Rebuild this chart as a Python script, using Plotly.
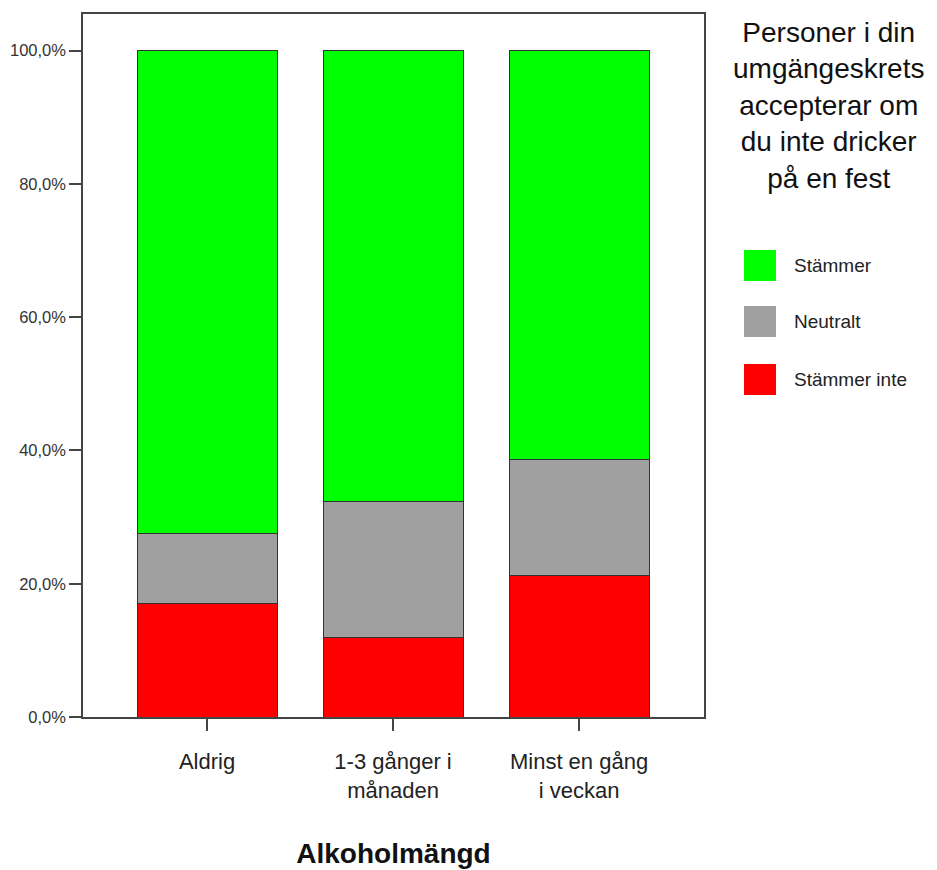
import plotly.graph_objects as go

categories = ["Aldrig", "1-3 gånger i<br>månaden", "Minst en gång<br>i veckan"]
series_names = ["Stämmer inte", "Neutralt", "Stämmer"]
stammer_inte = [17.0, 12.0, 21.3]
neutralt = [10.6, 20.4, 17.3]
stammer = [72.4, 67.6, 61.4]
series_values = [stammer_inte, neutralt, stammer]
series_colors = ["#ff0000", "#a0a0a0", "#00ff00"]
y_tickvals = [0, 20, 40, 60, 80, 100]
y_ticktext = ["0,0%", "20,0%", "40,0%", "60,0%", "80,0%", "100,0%"]
legend_title = "Personer i din<br>umgängeskrets<br>accepterar om<br>du inte dricker<br>på en fest"
x_title = "Alkoholmängd"

FONT = "Liberation Sans, Arial, Helvetica, sans-serif"

fig = go.Figure()
for name, vals, col in zip(series_names, series_values, series_colors):
    fig.add_trace(go.Bar(
        x=categories, y=vals, name=name,
        marker=dict(color=col, line=dict(color="#333333", width=1)),
        width=0.753, showlegend=False,
    ))

# page body has an 8px margin -> figure drawn offset by 8px
OFF = 8
W, H = 937 - OFF, 870 - OFF
L, T = 83 - OFF, 14 - OFF
R = W - (704 - OFF)
B = H - (717 - OFF)
pw, ph = W - L - R, H - T - B

def px_x(px):
    return (px - OFF - L) / pw

def px_y(py):
    return (H - B - (py - OFF)) / ph

annotations = [dict(
    text=legend_title, xref="paper", yref="paper",
    x=px_x(828), y=px_y(15), xanchor="center", yanchor="top",
    showarrow=False, align="center",
    font=dict(family=FONT, size=28, color="#111111"),
)]
shapes = []
swatch_tops = [250, 306, 364]
for i, (name, col) in enumerate(zip(series_names[::-1], series_colors[::-1])):
    top = swatch_tops[i]
    shapes.append(dict(
        type="rect", xref="paper", yref="paper",
        x0=px_x(744), x1=px_x(776), y0=px_y(top + 31), y1=px_y(top),
        fillcolor=col, line=dict(width=0),
    ))
    annotations.append(dict(
        text=name, xref="paper", yref="paper",
        x=px_x(792), y=px_y(top + 15.5), xanchor="left", yanchor="middle",
        showarrow=False, font=dict(family=FONT, size=19, color="#222222"),
    ))

fig.update_layout(
    barmode="stack",
    width=W, height=H,
    margin=dict(l=L, r=R, t=T, b=B, autoexpand=False),
    plot_bgcolor="white", paper_bgcolor="white",
    font=dict(family=FONT, color="#222222"),
    annotations=annotations,
    shapes=shapes,
    xaxis=dict(
        range=[-0.667, 2.672],
        showline=True, linecolor="#444444", linewidth=1.5, mirror=True,
        ticks="outside", ticklen=12, tickcolor="#444444", tickwidth=1.5,
        ticklabelstandoff=12,
        tickfont=dict(family=FONT, size=22, color="#222222"),
        showgrid=False, zeroline=False,
        title=dict(text="<b>" + x_title + "</b>", font=dict(family=FONT, size=28, color="#111111"), standoff=42),
    ),
    yaxis=dict(
        range=[0, 105.5],
        tickvals=y_tickvals, ticktext=y_ticktext,
        showline=True, linecolor="#444444", linewidth=1.5, mirror=True,
        ticks="outside", ticklen=12, tickcolor="#444444", tickwidth=1.5,
        tickfont=dict(family=FONT, size=16.5, color="#333333"),
        showgrid=False, zeroline=False,
    ),
)

fig.write_html("out.html")
